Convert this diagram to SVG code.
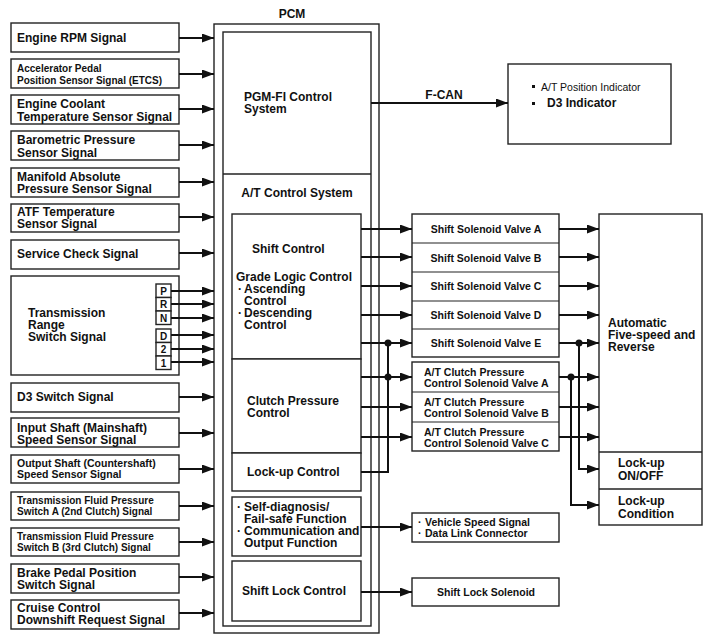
<svg xmlns="http://www.w3.org/2000/svg" width="712" height="644" viewBox="0 0 712 644">
<defs>
<marker id="ah" markerUnits="userSpaceOnUse" markerWidth="13" markerHeight="10" refX="12" refY="4.5" orient="auto"><path d="M0,0 L12,4.5 L0,9 z" fill="#111"/></marker>
<style>
.b{fill:#fff;stroke:#222;stroke-width:1.4}
.t{font-family:"Liberation Sans",Arial,sans-serif;font-weight:bold;font-size:12px;fill:#111}
.s{font-size:10.5px}
.xs{font-size:10px}
.c{text-anchor:middle}
.w{stroke:#111;stroke-width:2;fill:none}
.a{stroke:#111;stroke-width:2;fill:none;marker-end:url(#ah)}
.n{font-weight:normal}
</style>
</defs>
<rect width="712" height="644" fill="#fff"/>

<g id="inputs">
<g id="in-rpm"><rect class="b" x="11" y="23" width="168" height="29"/><text class="t" x="17" y="42">Engine RPM Signal</text></g>
<g id="in-app"><rect class="b" x="11" y="59" width="168" height="29"/><text class="t xs" x="17" y="71.5">Accelerator Pedal</text><text class="t xs" x="17" y="83.5">Position Sensor Signal (ETCS)</text></g>
<g id="in-ect"><rect class="b" x="11" y="95" width="168" height="29"/><text class="t" x="17" y="108">Engine Coolant</text><text class="t" x="17" y="121">Temperature Sensor Signal</text></g>
<g id="in-baro"><rect class="b" x="11" y="131" width="168" height="29"/><text class="t" x="17" y="144">Barometric Pressure</text><text class="t" x="17" y="157">Sensor Signal</text></g>
<g id="in-map"><rect class="b" x="11" y="168" width="168" height="29"/><text class="t" x="17" y="180.5">Manifold Absolute</text><text class="t" x="17" y="193">Pressure Sensor Signal</text></g>
<g id="in-atf"><rect class="b" x="11" y="204" width="168" height="28"/><text class="t" x="17" y="216">ATF Temperature</text><text class="t" x="17" y="228">Sensor Signal</text></g>
<g id="in-svc"><rect class="b" x="11" y="240" width="168" height="29"/><text class="t" x="17" y="258">Service Check Signal</text></g>
<g id="in-trs"><rect class="b" x="11" y="276" width="168" height="99"/>
<text class="t" x="28" y="317">Transmission</text><text class="t" x="28" y="329">Range</text><text class="t" x="28" y="341">Switch Signal</text>
<rect class="b" x="156" y="284" width="15" height="13.5"/><text class="t xs c" x="163.5" y="294.5">P</text>
<rect class="b" x="156" y="297.5" width="15" height="13.5"/><text class="t xs c" x="163.5" y="308">R</text>
<rect class="b" x="156" y="311" width="15" height="13.5"/><text class="t xs c" x="163.5" y="321.5">N</text>
<rect class="b" x="156" y="329" width="15" height="13.5"/><text class="t xs c" x="163.5" y="339.5">D</text>
<rect class="b" x="156" y="342.5" width="15" height="13.5"/><text class="t xs c" x="163.5" y="353">2</text>
<rect class="b" x="156" y="356" width="15" height="13.5"/><text class="t xs c" x="163.5" y="366.5">1</text>
</g>
<g id="in-d3"><rect class="b" x="11" y="383" width="168" height="29"/><text class="t" x="17" y="401">D3 Switch Signal</text></g>
<g id="in-iss"><rect class="b" x="11" y="418" width="168" height="29"/><text class="t" x="17" y="432">Input Shaft (Mainshaft)</text><text class="t" x="17" y="444">Speed Sensor Signal</text></g>
<g id="in-oss"><rect class="b" x="11" y="455" width="168" height="28"/><text class="t s" x="17" y="466.5">Output Shaft (Countershaft)</text><text class="t s" x="17" y="477.5">Speed Sensor Signal</text></g>
<g id="in-tfa"><rect class="b" x="11" y="492" width="168" height="28"/><text class="t xs" x="17" y="504">Transmission Fluid Pressure</text><text class="t xs" x="17" y="515">Switch A (2nd Clutch) Signal</text></g>
<g id="in-tfb"><rect class="b" x="11" y="528" width="168" height="28"/><text class="t xs" x="17" y="540">Transmission Fluid Pressure</text><text class="t xs" x="17" y="551">Switch B (3rd Clutch) Signal</text></g>
<g id="in-bps"><rect class="b" x="11" y="564" width="168" height="29"/><text class="t" x="17" y="576.5">Brake Pedal Position</text><text class="t" x="17" y="588.5">Switch Signal</text></g>
<g id="in-cc"><rect class="b" x="11" y="600" width="168" height="29"/><text class="t" x="17" y="611.5">Cruise Control</text><text class="t" x="17" y="624">Downshift Request Signal</text></g>
</g>

<g id="pcm">
<text class="t c" x="292" y="18">PCM</text>
<rect class="b" x="214" y="24" width="165" height="609"/>
<rect class="b" x="223" y="32" width="148" height="594"/>
<line x1="223" y1="174" x2="371" y2="174" stroke="#222" stroke-width="1.4"/>
<text class="t" x="244" y="101">PGM-FI Control</text><text class="t" x="244" y="113">System</text>
<text class="t c" x="297" y="197">A/T Control System</text>
</g>
<g id="shift-control"><rect class="b" x="232" y="214" width="129" height="145"/>
<text class="t" x="252" y="253">Shift Control</text>
<text class="t" x="236" y="281">Grade Logic Control</text>
<text class="t" x="238" y="293">·</text><text class="t" x="244" y="293">Ascending</text>
<text class="t" x="244" y="305">Control</text>
<text class="t" x="238" y="317">·</text><text class="t" x="244" y="317">Descending</text>
<text class="t" x="244" y="329">Control</text>
</g>
<g id="clutch-control"><rect class="b" x="232" y="359" width="129" height="94"/><text class="t" x="247" y="405">Clutch Pressure</text><text class="t" x="247" y="417">Control</text></g>
<g id="lockup-control"><rect class="b" x="232" y="453" width="129" height="38"/><text class="t" x="247" y="476">Lock-up Control</text></g>
<g id="self-diag"><rect class="b" x="232" y="497" width="129" height="59"/>
<text class="t" x="237" y="511" font-size="11">·</text><text class="t" x="244" y="511" font-size="11.2">Self-diagnosis/</text>
<text class="t" x="244" y="523" font-size="11.2">Fail-safe Function</text>
<text class="t" x="237" y="535" font-size="11">·</text><text class="t" x="244" y="535" font-size="11.2">Communication and</text>
<text class="t" x="244" y="547" font-size="11.2">Output Function</text>
</g>
<g id="shift-lock-control"><rect class="b" x="232" y="561" width="129" height="60"/><text class="t" x="242" y="595">Shift Lock Control</text></g>

<g id="fcan-box"><rect class="b" x="508" y="64" width="163" height="80"/>
<rect x="532" y="85" width="3" height="3" fill="#111"/><text class="t n s" x="541" y="91">A/T Position Indicator</text>
<rect x="532" y="102" width="3" height="3" fill="#111"/><text class="t" x="547" y="107">D3 Indicator</text>
</g>

<g id="solenoids">
<rect class="b" x="412" y="214" width="147" height="143"/>
<line x1="412" y1="243" x2="559" y2="243" stroke="#222" stroke-width="1.2"/>
<line x1="412" y1="272" x2="559" y2="272" stroke="#222" stroke-width="1.2"/>
<line x1="412" y1="301" x2="559" y2="301" stroke="#222" stroke-width="1.2"/>
<line x1="412" y1="329" x2="559" y2="329" stroke="#222" stroke-width="1.2"/>
<text class="t s c" x="486" y="233">Shift Solenoid Valve A</text>
<text class="t s c" x="486" y="261.5">Shift Solenoid Valve B</text>
<text class="t s c" x="486" y="290">Shift Solenoid Valve C</text>
<text class="t s c" x="486" y="318.5">Shift Solenoid Valve D</text>
<text class="t s c" x="486" y="347">Shift Solenoid Valve E</text>
</g>
<g id="clutch-solenoids">
<rect class="b" x="412" y="362" width="147" height="89"/>
<line x1="412" y1="392" x2="559" y2="392" stroke="#222" stroke-width="1.2"/>
<line x1="412" y1="422" x2="559" y2="422" stroke="#222" stroke-width="1.2"/>
<text class="t s" x="424" y="375.5">A/T Clutch Pressure</text><text class="t s" x="424" y="386.5">Control Solenoid Valve A</text>
<text class="t s" x="424" y="405.5">A/T Clutch Pressure</text><text class="t s" x="424" y="416.5">Control Solenoid Valve B</text>
<text class="t s" x="424" y="435.5">A/T Clutch Pressure</text><text class="t s" x="424" y="446.5">Control Solenoid Valve C</text>
</g>
<g id="vss-box"><rect class="b" x="412" y="513" width="147" height="29"/>
<text class="t s" x="418" y="525.5">·</text><text class="t s" x="425" y="525.5">Vehicle Speed Signal</text>
<text class="t s" x="418" y="537">·</text><text class="t s" x="425" y="537">Data Link Connector</text>
</g>
<g id="sls-box"><rect class="b" x="412" y="578" width="147" height="28"/><text class="t s c" x="486" y="596">Shift Lock Solenoid</text></g>

<g id="transmission">
<rect class="b" x="599" y="214" width="103" height="311"/>
<line x1="599" y1="452" x2="702" y2="452" stroke="#222" stroke-width="1.4"/>
<line x1="599" y1="489" x2="702" y2="489" stroke="#222" stroke-width="1.4"/>
<text class="t" x="608" y="327">Automatic</text><text class="t" x="608" y="339">Five-speed and</text><text class="t" x="608" y="351">Reverse</text>
<text class="t" x="618" y="467">Lock-up</text><text class="t" x="618" y="480">ON/OFF</text>
<text class="t" x="618" y="505">Lock-up</text><text class="t" x="618" y="518">Condition</text>
</g>

<g id="connectors">
<path class="a" d="M179,38 H214"/>
<path class="a" d="M179,74 H214"/>
<path class="a" d="M179,109 H214"/>
<path class="a" d="M179,145 H214"/>
<path class="a" d="M179,182 H214"/>
<path class="a" d="M179,217 H214"/>
<path class="a" d="M179,253 H214"/>
<path class="a" d="M171,291 H214"/>
<path class="a" d="M171,304 H214"/>
<path class="a" d="M171,318 H214"/>
<path class="a" d="M171,335 H214"/>
<path class="a" d="M171,349 H214"/>
<path class="a" d="M171,362 H214"/>
<path class="a" d="M179,397 H214"/>
<path class="a" d="M179,433 H214"/>
<path class="a" d="M179,469 H214"/>
<path class="a" d="M179,506 H214"/>
<path class="a" d="M179,542 H214"/>
<path class="a" d="M179,577 H214"/>
<path class="a" d="M179,613 H214"/>

<path class="a" d="M371,103 H508"/>
<text class="t c" x="444" y="99" font-size="16.5">F-CAN</text>

<path class="a" d="M361,229 H412"/>
<path class="a" d="M361,257 H412"/>
<path class="a" d="M361,286 H412"/>
<path class="a" d="M361,315 H412"/>
<path class="a" d="M361,343 H412"/>
<path class="a" d="M361,377 H412"/>
<path class="a" d="M361,407 H412"/>
<path class="a" d="M361,437 H412"/>
<path class="w" d="M361,472 H388 V343"/>
<circle cx="388" cy="343" r="3.5" fill="#111"/>
<circle cx="388" cy="377" r="3.5" fill="#111"/>
<path class="a" d="M361,527 H412"/>
<path class="a" d="M361,592 H412"/>

<path class="a" d="M559,229 H599"/>
<path class="a" d="M559,257 H599"/>
<path class="a" d="M559,286 H599"/>
<path class="a" d="M559,315 H599"/>
<path class="a" d="M559,343 H599"/>
<path class="a" d="M559,377 H599"/>
<path class="a" d="M559,407 H599"/>
<path class="a" d="M559,437 H599"/>
<path class="a" d="M579,343 V469 H599"/>
<path class="a" d="M571,377 V505 H599"/>
<circle cx="579" cy="343" r="3.5" fill="#111"/>
<circle cx="571" cy="377" r="3.5" fill="#111"/>
</g>
</svg>
